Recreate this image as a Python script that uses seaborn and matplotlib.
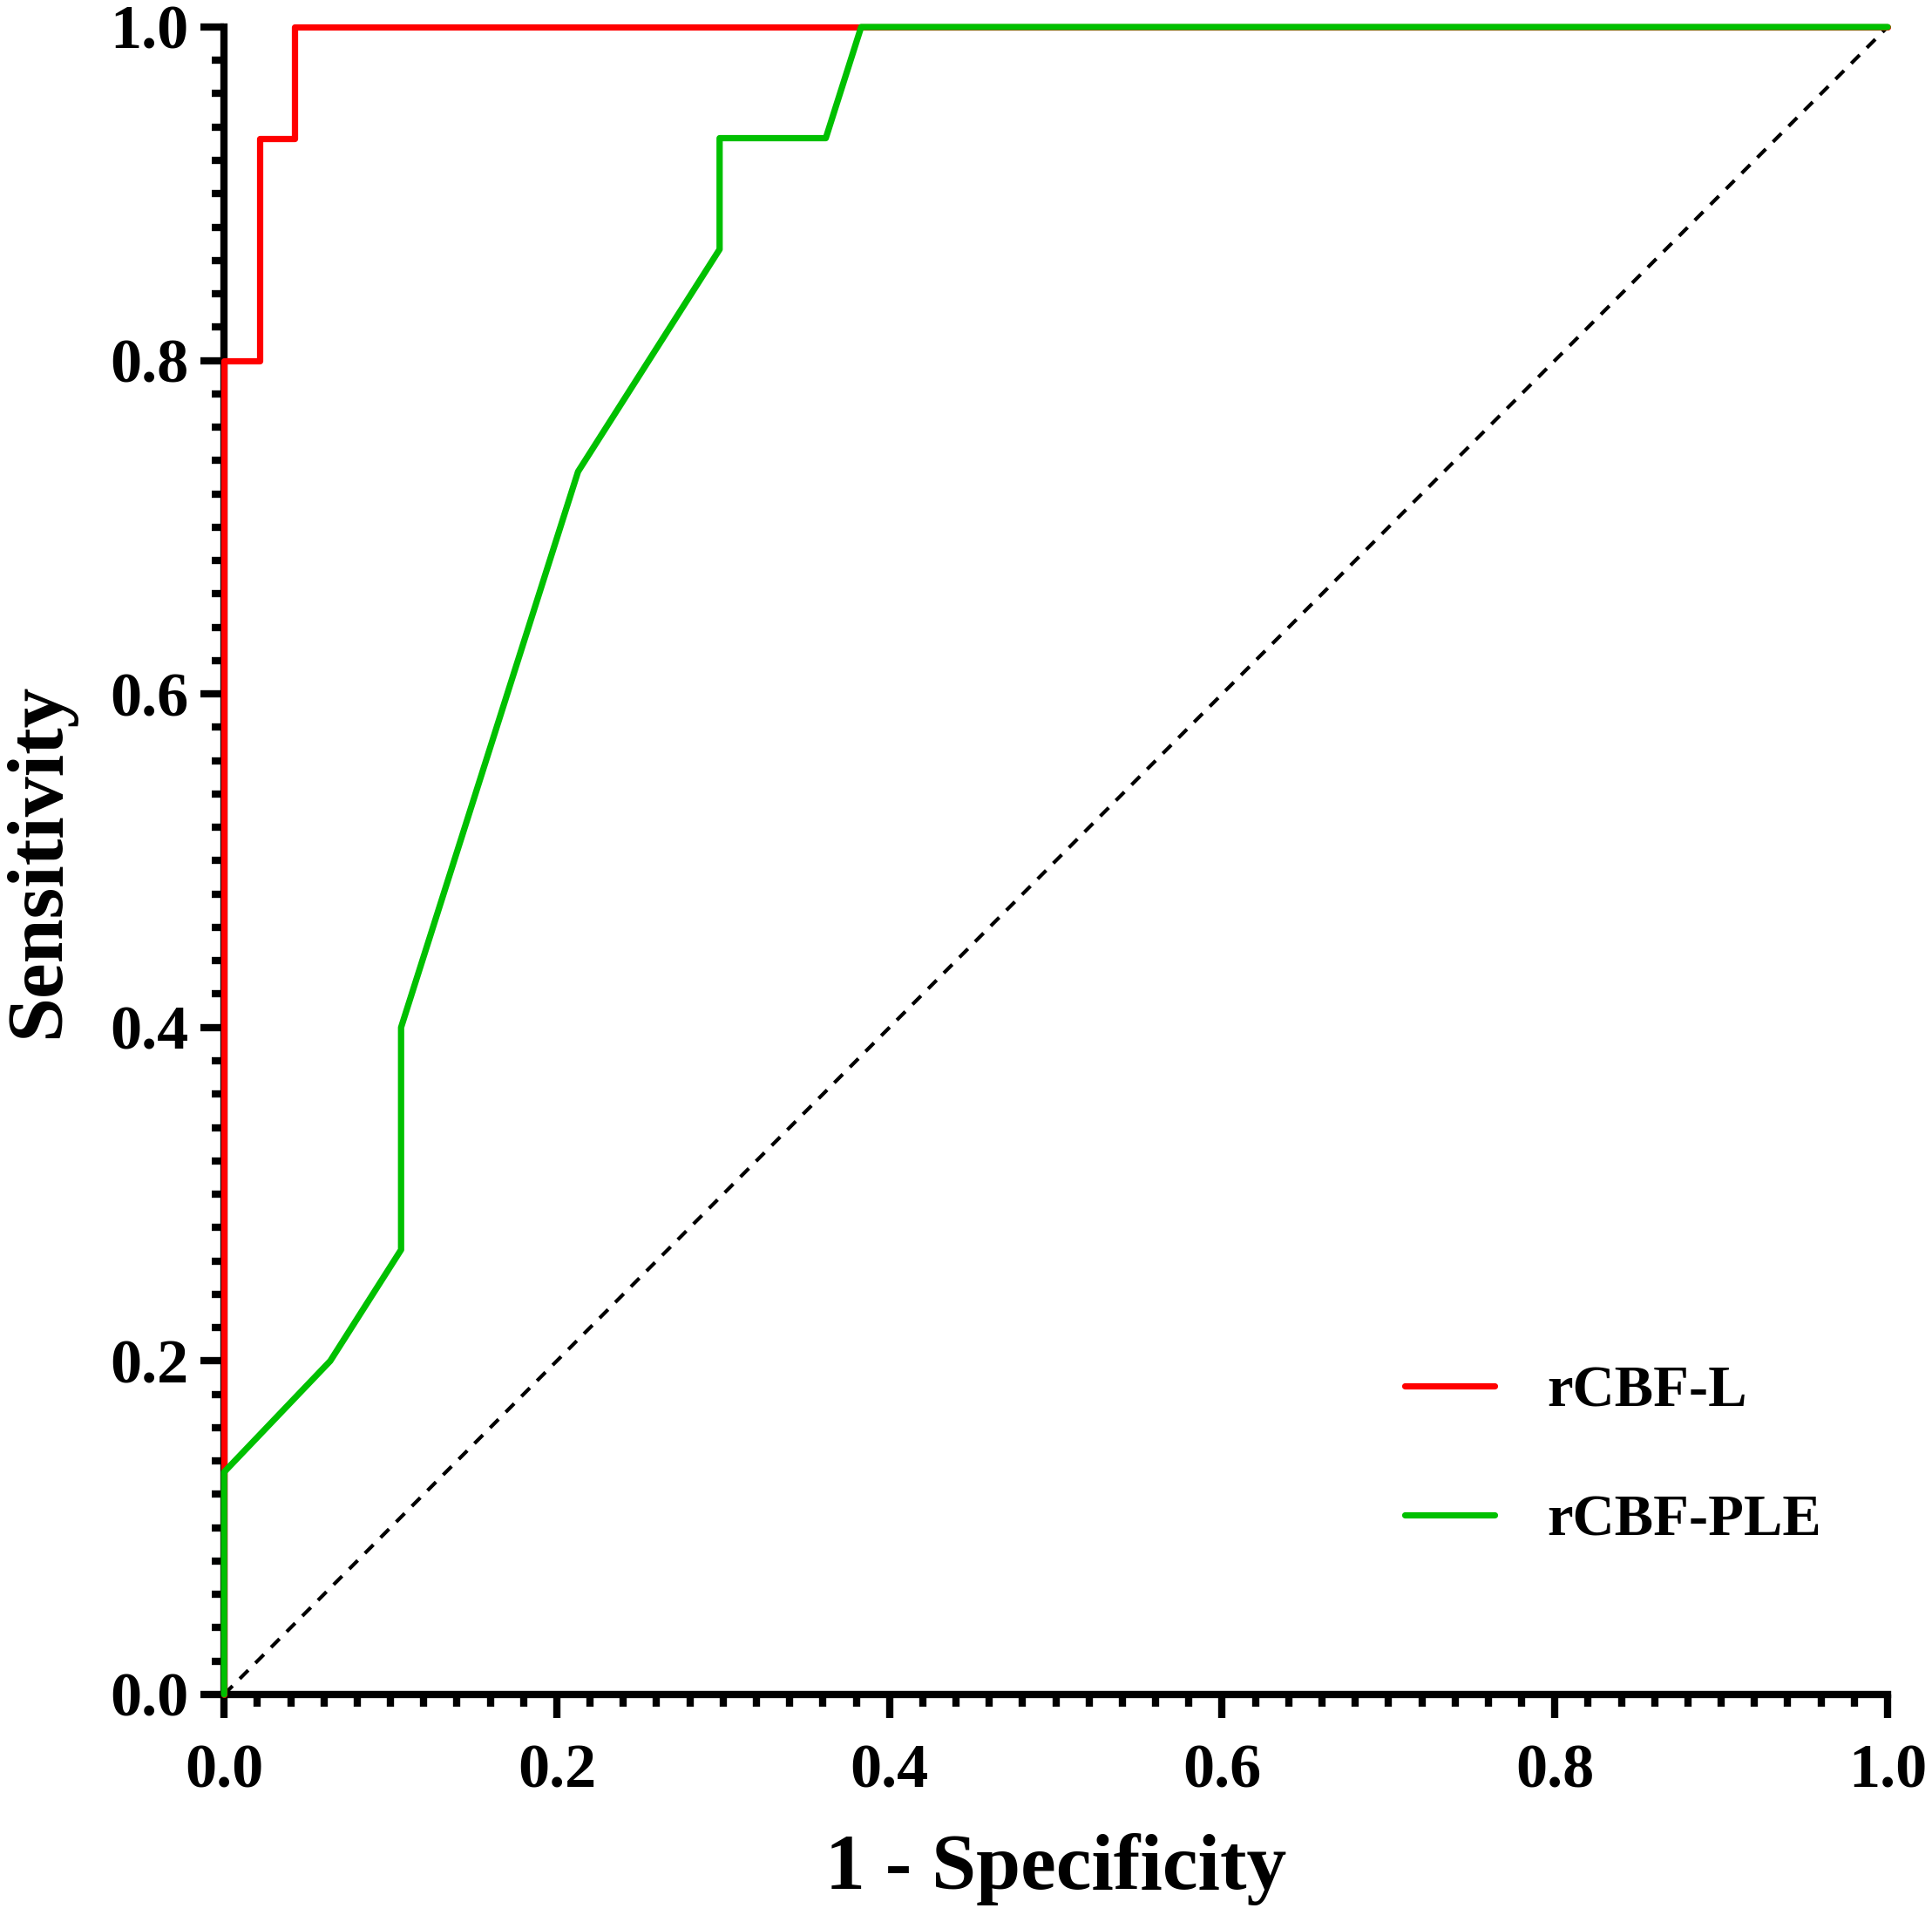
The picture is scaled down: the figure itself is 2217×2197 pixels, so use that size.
import numpy as np
import pandas as pd
import seaborn as sns
import matplotlib.pyplot as plt
from matplotlib.ticker import MultipleLocator, FormatStrFormatter

# ROC points (1 - specificity, sensitivity)
l_fpr = [0, 0, 1/47, 1/47, 2/47, 2/47, 1]
l_tpr = [0, 12/15, 12/15, 14/15, 14/15, 1, 1]

ple_fpr = [0, 0, 3/47, 5/47, 5/47, 10/47, 14/47, 14/47, 17/47, 18/47, 1]
ple_tpr = [0, 2/15, 3/15, 4/15, 6/15, 11/15, 13/15, 14/15, 14/15, 1, 1]

labels = ["rCBF-L", "rCBF-PLE"]
colors = ["#ff0000", "#00c000"]

sns.set_style("white")
plt.rcParams['font.family'] = ['Liberation Serif', 'DejaVu Serif']
plt.rcParams['font.weight'] = 'bold'
plt.rcParams['text.color'] = 'black'
plt.rcParams['axes.labelcolor'] = 'black'
plt.rcParams['xtick.color'] = 'black'
plt.rcParams['ytick.color'] = 'black'

fig = plt.figure(figsize=(11.085, 10.985), dpi=200)
ax = fig.add_axes([0.116, 0.1152, 0.861, 0.8707])

# reference diagonal
ax.plot([0, 1], [0, 1], color='black', lw=1.5, linestyle=(0, (3.3, 2.8)), zorder=2)

for fpr, tpr, lab, c in zip([l_fpr, ple_fpr], [l_tpr, ple_tpr], labels, colors):
    df = pd.DataFrame({'fpr': fpr, 'tpr': tpr})
    sns.lineplot(data=df, x='fpr', y='tpr', sort=False, estimator=None,
                 color=c, lw=2.6, label=lab, ax=ax, clip_on=False, zorder=4)

ax.set_xlim(0, 1)
ax.set_ylim(0, 1)
ax.xaxis.set_major_locator(MultipleLocator(0.2))
ax.yaxis.set_major_locator(MultipleLocator(0.2))
ax.xaxis.set_minor_locator(MultipleLocator(0.02))
ax.yaxis.set_minor_locator(MultipleLocator(0.02))
ax.xaxis.set_major_formatter(FormatStrFormatter('%.1f'))
ax.yaxis.set_major_formatter(FormatStrFormatter('%.1f'))

for s in ['top', 'right']:
    ax.spines[s].set_visible(False)
for s in ['left', 'bottom']:
    ax.spines[s].set_linewidth(3)
    ax.spines[s].set_color('black')

ax.tick_params(which='major', direction='out', length=9.7, width=3, labelsize=26,
               color='black', left=True, bottom=True)
ax.tick_params(which='minor', direction='out', length=5, width=3, color='black',
               left=True, bottom=True)
ax.tick_params(axis='x', which='major', pad=10.5)
ax.tick_params(axis='y', which='major', pad=5)
for t in ax.get_xticklabels() + ax.get_yticklabels():
    t.set_fontweight('bold')

ax.set_xlabel('1 - Specificity', fontsize=33, fontweight='bold', labelpad=13.5)
ax.set_ylabel('Sensitivity', fontsize=33, fontweight='bold', labelpad=14.5)

leg = ax.legend(loc='upper left', bbox_to_anchor=(0.727, 0.287),
                bbox_transform=fig.transFigure, frameon=False, fontsize=24,
                handlelength=1.55, handletextpad=0.9, labelspacing=1.3,
                borderpad=0, borderaxespad=0)
for t in leg.get_texts():
    t.set_fontweight('bold')

fig.savefig('out.png', dpi=200, facecolor='white')
